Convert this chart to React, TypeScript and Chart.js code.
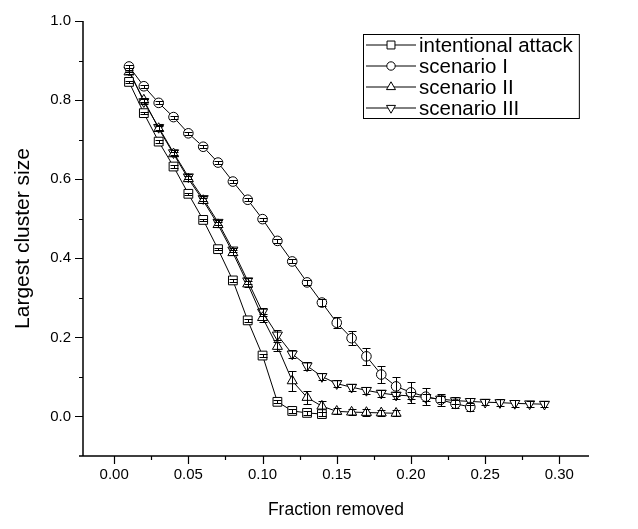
import React, { useEffect, useRef } from 'react';
import { Chart, registerables } from 'chart.js';
import { drawPoint } from 'chart.js/helpers';

Chart.register(...registerables);

// ---------- data ----------
const fractions = [
  0.01, 0.02, 0.03, 0.04, 0.05, 0.06, 0.07, 0.08, 0.09, 0.10,
  0.11, 0.12, 0.13, 0.14, 0.15, 0.16, 0.17, 0.18, 0.19, 0.20,
  0.21, 0.22, 0.23, 0.24, 0.25, 0.26, 0.27, 0.28, 0.29,
];

const seriesNames = ['intentional attack', 'scenario I', 'scenario II', 'scenario III'];

const attackValues = [0.846, 0.767, 0.695, 0.632, 0.563, 0.497, 0.423, 0.344, 0.243, 0.154, 0.037, 0.014, 0.009, 0.006];
const attackErrors = [0.003, 0.003, 0.003, 0.003, 0.003, 0.003, 0.003, 0.003, 0.003, 0.004, 0.004, 0.004, 0.005, 0.005];

const scenarioIValues = [
  0.885, 0.835, 0.793, 0.757, 0.716, 0.682, 0.642, 0.594, 0.548, 0.499,
  0.444, 0.392, 0.339, 0.288, 0.237, 0.198, 0.152, 0.106, 0.076, 0.061,
  0.050, 0.042, 0.032, 0.024,
];
const scenarioIErrors = [
  0.004, 0.004, 0.004, 0.004, 0.004, 0.004, 0.004, 0.004, 0.004, 0.004,
  0.005, 0.005, 0.006, 0.008, 0.014, 0.018, 0.021, 0.022, 0.024, 0.026,
  0.022, 0.015, 0.010, 0.010,
];

const scenarioIIValues = [
  0.871, 0.800, 0.728, 0.664, 0.601, 0.546, 0.485, 0.414, 0.335, 0.250,
  0.177, 0.090, 0.048, 0.026, 0.013, 0.011, 0.010, 0.009, 0.008,
];
const scenarioIIErrors = [
  0.006, 0.006, 0.006, 0.006, 0.006, 0.006, 0.006, 0.006, 0.007, 0.010,
  0.012, 0.025, 0.016, 0.014, 0.008, 0.008, 0.008, 0.008, 0.008,
];

const scenarioIIIValues = [
  0.876, 0.796, 0.731, 0.667, 0.606, 0.551, 0.491, 0.421, 0.343, 0.264,
  0.206, 0.158, 0.128, 0.101, 0.083, 0.074, 0.066, 0.059, 0.054, 0.052,
  0.048, 0.044, 0.040, 0.038, 0.036, 0.035, 0.033, 0.032, 0.031,
];
const scenarioIIIErrors = [
  0.006, 0.006, 0.006, 0.006, 0.006, 0.006, 0.006, 0.006, 0.007, 0.010,
  0.012, 0.011, 0.010, 0.009, 0.009, 0.009, 0.009, 0.009, 0.009, 0.009,
  0.009, 0.008, 0.008, 0.008, 0.008, 0.008, 0.008, 0.008, 0.008,
];

const xTickValues = [0, 0.05, 0.1, 0.15, 0.2, 0.25, 0.3];
const xMinorTickValues = [0.025, 0.075, 0.125, 0.175, 0.225, 0.275];
const yTickValues = [0, 0.2, 0.4, 0.6, 0.8, 1.0];
const yMinorTickValues = [0.1, 0.3, 0.5, 0.7, 0.9];

const X_MIN = -0.021;
const X_MAX = 0.32;
const Y_MIN = -0.1;
const Y_MAX = 1.0;

const xTitle = 'Fraction removed';
const yTitle = 'Largest cluster size';

// ---------- styles ----------
const FONT = '"Liberation Sans", Arial, sans-serif';
const W = 638;
const H = 529;
const PLOT_LEFT = 83;
const PLOT_RIGHT = 589;
const PLOT_TOP = 12;
const PLOT_BOTTOM = 456;

const markerStyles = [
  { pointStyle: 'rect', radius: 6.2, rotation: 0 },
  { pointStyle: 'circle', radius: 4.8, rotation: 0 },
  { pointStyle: 'triangle', radius: 5.8, rotation: 0 },
  { pointStyle: 'triangle', radius: 5.8, rotation: 180 },
];

const valueSets = [attackValues, scenarioIValues, scenarioIIValues, scenarioIIIValues];
const errorSets = [attackErrors, scenarioIErrors, scenarioIIErrors, scenarioIIIErrors];

const axesPlugin = {
  id: 'originAxes',
  afterDraw(chart: any) {
    const { ctx, chartArea, scales } = chart;
    const xs = scales.x;
    const ys = scales.y;
    ctx.save();
    ctx.strokeStyle = '#000';
    ctx.lineWidth = 1.5;
    ctx.beginPath();
    ctx.moveTo(chartArea.left, chartArea.top);
    ctx.lineTo(chartArea.left, chartArea.bottom);
    ctx.moveTo(chartArea.left - 4, chartArea.bottom);
    ctx.lineTo(chartArea.right, chartArea.bottom);
    ctx.stroke();
    ctx.lineWidth = 1.2;
    ctx.beginPath();
    yTickValues.forEach((v) => {
      const p = Math.round(ys.getPixelForValue(v)) + 0.5;
      ctx.moveTo(chartArea.left - 8, p);
      ctx.lineTo(chartArea.left, p);
    });
    yMinorTickValues.forEach((v) => {
      const p = Math.round(ys.getPixelForValue(v)) + 0.5;
      ctx.moveTo(chartArea.left - 4, p);
      ctx.lineTo(chartArea.left, p);
    });
    xTickValues.forEach((v) => {
      const p = Math.round(xs.getPixelForValue(v)) + 0.5;
      ctx.moveTo(p, chartArea.bottom);
      ctx.lineTo(p, chartArea.bottom + 8);
    });
    xMinorTickValues.forEach((v) => {
      const p = Math.round(xs.getPixelForValue(v)) + 0.5;
      ctx.moveTo(p, chartArea.bottom);
      ctx.lineTo(p, chartArea.bottom + 4);
    });
    ctx.stroke();
    ctx.restore();
  },
};

const errorBarPlugin = {
  id: 'errorBars',
  afterDatasetsDraw(chart: any) {
    const { ctx, scales } = chart;
    const xs = scales.x;
    const ys = scales.y;
    ctx.save();
    ctx.strokeStyle = '#000';
    ctx.lineWidth = 1;
    chart.data.datasets.forEach((ds: any) => {
      const errs: number[] = ds.errors || [];
      ds.data.forEach((pt: any, i: number) => {
        const e = errs[i] || 0;
        const x = Math.round(xs.getPixelForValue(pt.x)) + 0.5;
        const yt = Math.round(ys.getPixelForValue(pt.y + e)) + 0.5;
        const yb = Math.round(ys.getPixelForValue(pt.y - e)) + 0.5;
        ctx.beginPath();
        ctx.moveTo(x, yt);
        ctx.lineTo(x, yb);
        ctx.moveTo(x - 4, yt);
        ctx.lineTo(x + 4, yt);
        ctx.moveTo(x - 4, yb);
        ctx.lineTo(x + 4, yb);
        ctx.stroke();
      });
    });
    ctx.restore();
  },
};

const legendPlugin = {
  id: 'boxLegend',
  afterDraw(chart: any) {
    const { ctx } = chart;
    const left = 363;
    const top = 34;
    const rowH = 21;
    const lineX0 = left + 3;
    const lineX1 = left + 53;
    const textX = left + 56;
    ctx.save();
    ctx.font = `20.5px ${FONT}`;
    let maxW = 0;
    chart.data.datasets.forEach((ds: any) => {
      maxW = Math.max(maxW, ctx.measureText(ds.label).width);
    });
    const boxW = textX - left + maxW + 6;
    const boxH = rowH * chart.data.datasets.length;
    ctx.fillStyle = '#fff';
    ctx.fillRect(left, top, boxW, boxH);
    ctx.strokeStyle = '#000';
    ctx.lineWidth = 1;
    ctx.strokeRect(left + 0.5, top + 0.5, boxW, boxH);
    chart.data.datasets.forEach((ds: any, i: number) => {
      const y = top + rowH / 2 + i * rowH + 0.5;
      ctx.strokeStyle = '#000';
      ctx.lineWidth = 1;
      ctx.beginPath();
      ctx.moveTo(lineX0, y);
      ctx.lineTo(lineX1, y);
      ctx.stroke();
      ctx.fillStyle = '#fff';
      drawPoint(ctx, {
        pointStyle: ds.pointStyle,
        rotation: ds.pointRotation || 0,
        radius: ds.pointRadius - 0.6,
        borderWidth: 1,
      } as any, (lineX0 + lineX1) / 2, y);
      ctx.fillStyle = '#000';
      ctx.textBaseline = 'middle';
      ctx.textAlign = 'left';
      ctx.fillText(ds.label, textX, y + 1);
    });
    ctx.restore();
  },
};

export default function App() {
  const canvasRef = useRef<HTMLCanvasElement | null>(null);

  useEffect(() => {
    if (!canvasRef.current) return;
    const datasets = seriesNames.map((name, k) => ({
      label: name,
      data: valueSets[k].map((v, i) => ({ x: fractions[i], y: v })),
      errors: errorSets[k],
      showLine: true,
      borderColor: '#000',
      borderWidth: 1,
      backgroundColor: '#fff',
      pointStyle: markerStyles[k].pointStyle,
      pointRadius: markerStyles[k].radius,
      pointRotation: markerStyles[k].rotation,
      pointBorderColor: '#000',
      pointBackgroundColor: '#fff',
      pointBorderWidth: 1,
      fill: false,
      tension: 0,
    }));

    const chart = new Chart(canvasRef.current, {
      type: 'scatter',
      data: { datasets: datasets as any },
      options: {
        animation: false,
        responsive: false,
        devicePixelRatio: 1,
        layout: { padding: { left: 0, top: PLOT_TOP, right: W - PLOT_RIGHT, bottom: 0 } },
        plugins: {
          legend: { display: false },
          tooltip: { enabled: false },
        },
        scales: {
          x: {
            type: 'linear',
            min: X_MIN,
            max: X_MAX,
            grid: { display: false, drawTicks: false },
            border: { display: false },
            afterBuildTicks: (scale: any) => {
              scale.ticks = xTickValues.map((v) => ({ value: v }));
            },
            afterFit: (scale: any) => {
              scale.height = H - PLOT_BOTTOM;
            },
            ticks: {
              autoSkip: false,
              maxRotation: 0,
              padding: 10,
              color: '#000',
              font: { family: FONT, size: 15 },
              callback: (v: any) => Number(v).toFixed(2),
            },
            title: {
              display: true,
              text: xTitle,
              color: '#000',
              font: { family: FONT, size: 17.5 },
              padding: { top: 0, bottom: 8 },
            },
          },
          y: {
            type: 'linear',
            min: Y_MIN,
            max: Y_MAX,
            grid: { display: false, drawTicks: false },
            border: { display: false },
            afterBuildTicks: (scale: any) => {
              scale.ticks = yTickValues.map((v) => ({ value: v }));
            },
            afterFit: (scale: any) => {
              scale.width = PLOT_LEFT;
            },
            ticks: {
              autoSkip: false,
              padding: 12,
              color: '#000',
              font: { family: FONT, size: 15 },
              callback: (v: any) => Number(v).toFixed(1),
            },
            title: {
              display: true,
              text: yTitle,
              color: '#000',
              font: { family: FONT, size: 21 },
              padding: { top: 11, bottom: 0 },
            },
          },
        },
      },
      plugins: [errorBarPlugin, axesPlugin, legendPlugin],
    });
    return () => chart.destroy();
  }, []);

  return (
    <div style={{ position: 'absolute', left: 0, top: 0, width: W, height: H }}>
      <canvas ref={canvasRef} width={W} height={H} />
    </div>
  );
}
